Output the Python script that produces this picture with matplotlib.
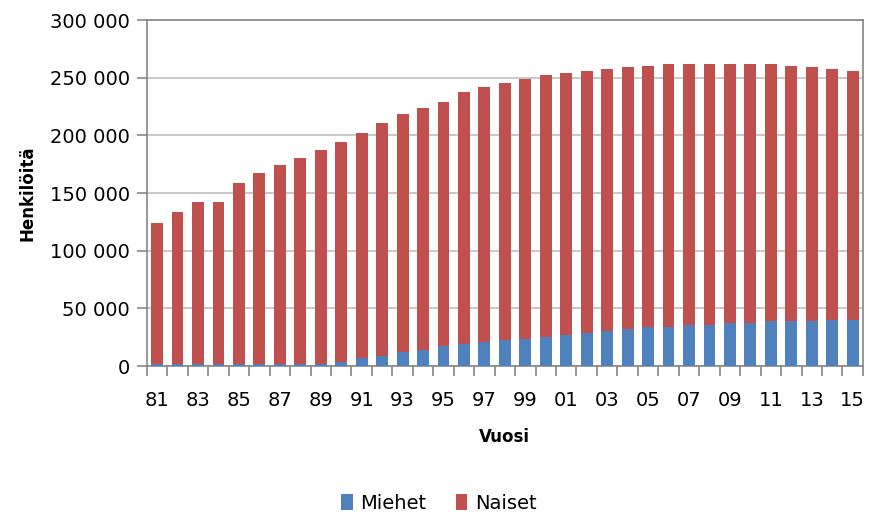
import numpy as np
import matplotlib.pyplot as plt
from matplotlib.ticker import FuncFormatter

# data
vuodet = [str(v)[-2:] for v in range(1981, 2016)]
yhteensa = [123900, 134000, 142200, 142200, 158900, 167300, 174300, 180700, 187300, 194000,
            202400, 210800, 218900, 223800, 229000, 237400, 242300, 245500, 249000, 252200,
            254200, 255600, 257400, 259100, 260600, 262300, 262300, 262300, 262300, 262300,
            262300, 260600, 259100, 257400, 255600]
miehet = [2000, 2000, 2000, 2000, 2000, 2000, 2000, 2000, 2000, 3800,
          7200, 9000, 12200, 13900, 17100, 18800, 20600, 22300, 23700, 25500,
          27200, 28700, 30400, 32100, 33600, 33600, 35300, 35300, 37100, 37100,
          38800, 38800, 38800, 40200, 40200]
naiset = [t - m for t, m in zip(yhteensa, miehet)]

x = np.arange(len(vuodet))

fig = plt.figure(figsize=(8.69, 5.15), dpi=100)
ax = fig.add_axes([0.169, 0.289, 0.824, 0.672])

ax.bar(x, miehet, width=0.58, color='#4F81BD', label='Miehet', zorder=3)
ax.bar(x, naiset, width=0.58, bottom=miehet, color='#C0504D', label='Naiset', zorder=3)

ax.set_xlim(-0.5, len(vuodet) - 0.5)
ax.set_ylim(0, 300000)
ax.set_yticks(np.arange(0, 300001, 50000))
ax.yaxis.set_major_formatter(FuncFormatter(lambda v, p: f'{int(v):,}'.replace(',', ' ')))
ax.grid(axis='y', color='#BFBFBF', linewidth=1.2, zorder=0)

# x-akselin merkit luokkien väliin, tekstit joka toiselle vuodelle
ax.set_xticks(np.arange(-0.5, len(vuodet), 1))
ax.set_xticklabels([])
ax.set_xticks(x[::2], minor=True)
ax.set_xticklabels(vuodet[::2], minor=True)
ax.tick_params(axis='x', which='major', length=7, width=1.2, color='#868686')
ax.tick_params(axis='x', which='minor', length=0, pad=18, labelsize=14)
ax.tick_params(axis='y', length=7, width=1.2, color='#868686', labelsize=14, pad=5)

for s in ax.spines.values():
    s.set_color('#868686')
    s.set_linewidth(1.2)

ax.set_xlabel('Vuosi', fontsize=12, fontweight='bold', labelpad=13)
ax.set_ylabel('Henkilöitä', fontsize=12, fontweight='bold', labelpad=10)

fig.legend(loc='lower center', ncol=2, frameon=False, fontsize=14,
           bbox_to_anchor=(0.505, -0.018), handlelength=0.6, handleheight=0.9,
           columnspacing=1.5, handletextpad=0.4, borderaxespad=0.2)

fig.savefig('out.png', dpi=100)
